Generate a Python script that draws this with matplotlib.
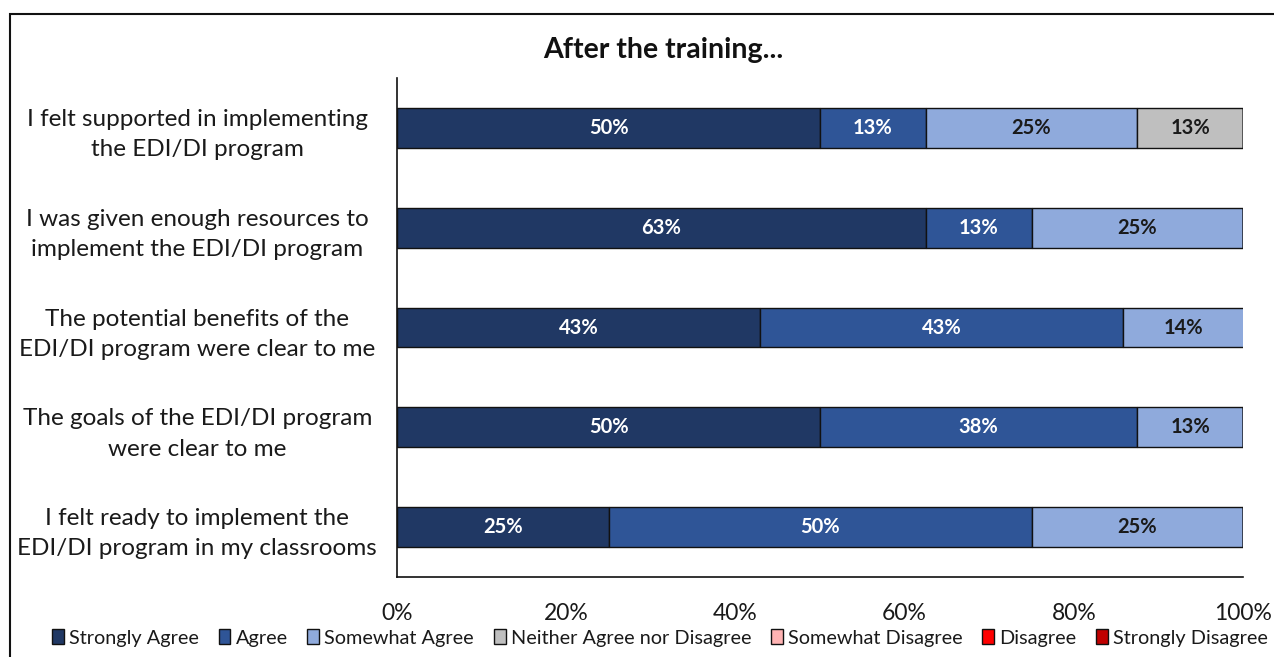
import matplotlib
matplotlib.use("Agg")
import matplotlib.pyplot as plt
from matplotlib.patches import Rectangle, Patch
import numpy as np

plt.rcParams['font.family'] = ['Lato', 'DejaVu Sans']

categories = [
    "I felt supported in implementing\nthe EDI/DI program",
    "I was given enough resources to\nimplement the EDI/DI program",
    "The potential benefits of the\nEDI/DI program were clear to me",
    "The goals of the EDI/DI program\nwere clear to me",
    "I felt ready to implement the\nEDI/DI program in my classrooms",
]
series_names = ["Strongly Agree", "Agree", "Somewhat Agree",
                "Neither Agree nor Disagree", "Somewhat Disagree",
                "Disagree", "Strongly Disagree"]
strongly_agree = [50.0, 62.5, 42.9, 50.0, 25.0]
agree = [12.5, 12.5, 42.9, 37.5, 50.0]
somewhat_agree = [25.0, 25.0, 14.3, 12.5, 25.0]
neither = [12.5, 0, 0, 0, 0]
somewhat_disagree = [0, 0, 0, 0, 0]
disagree = [0, 0, 0, 0, 0]
strongly_disagree = [0, 0, 0, 0, 0]
series_values = [strongly_agree, agree, somewhat_agree, neither,
                 somewhat_disagree, disagree, strongly_disagree]
colors = ["#203864", "#2F5597", "#8FAADC", "#BFBFBF", "#FFB3B3", "#FF0000", "#C00000"]
label_colors = ["white", "white", "#1a1a1a", "#1a1a1a", "#1a1a1a", "white", "white"]
x_ticks = [0, 20, 40, 60, 80, 100]
x_tick_labels = ["0%", "20%", "40%", "60%", "80%", "100%"]
title = "After the training..."

W, H = 1274, 657
fig = plt.figure(figsize=(W / 100, H / 100), dpi=100)
ax = fig.add_axes([397 / W, 1 - 577 / H, (1243 - 397) / W, (577 - 78) / H])

y = np.arange(len(categories)) + 0.5
left = np.zeros(len(categories))
for name, vals, c, lc in zip(series_names, series_values, colors, label_colors):
    vals = np.array(vals, dtype=float)
    ax.barh(y, vals, left=left, height=0.4, color=c, edgecolor="#111111",
            linewidth=1.0, label=name)
    for yi, li, v in zip(y, left, vals):
        if v > 0:
            ax.text(li + v / 2, yi, f"{int(v + 0.5)}%", ha="center", va="center",
                    color=lc, fontsize=14.5, fontweight="bold")
    left += vals

ax.set_xlim(0, 100)
ax.set_ylim(5, 0)
ax.set_yticks(y)
ax.set_yticklabels(categories, fontsize=17.5, color="#1a1a1a", linespacing=1.55,
                   ha="center")
ax.tick_params(axis="y", length=0, pad=0)
for lab in ax.get_yticklabels():
    lab.set_x(-0.236)
ax.set_xticks(x_ticks)
ax.set_xticklabels(x_tick_labels, fontsize=16.5, color="#1a1a1a")
ax.tick_params(axis="x", length=0, pad=19)
for s in ["top", "right"]:
    ax.spines[s].set_visible(False)
for s in ["left", "bottom"]:
    ax.spines[s].set_color("#111111")
    ax.spines[s].set_linewidth(1.2)

fig.text(663 / W, 1 - 50 / H, title, ha="center", va="center",
         fontsize=20.5, fontweight="bold", color="#111111")

handles = [Patch(facecolor=c, edgecolor="#111111", linewidth=1.0) for c in colors]
fig.legend(handles, series_names, loc="center", bbox_to_anchor=(660 / W, 1 - 638 / H),
           ncol=7, frameon=False, fontsize=14.3, handlelength=0.6, handleheight=0.8,
           handletextpad=0.25, columnspacing=1.0, borderpad=0, labelcolor="#1a1a1a")

fig.patches.append(Rectangle((10 / W, -0.1), 1.2, 1 - 14 / H + 0.1,
                             transform=fig.transFigure, fill=False,
                             edgecolor="#111111", linewidth=1.5))

fig.savefig("out.png", dpi=100)
